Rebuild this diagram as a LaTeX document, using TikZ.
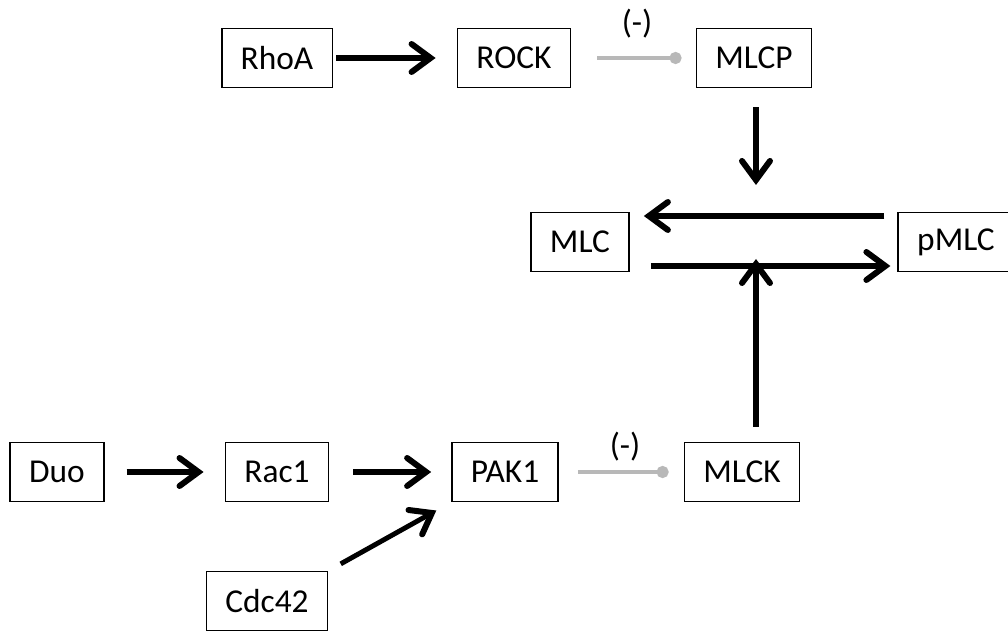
\documentclass[tikz,border=0pt]{standalone}
\usepackage{fontspec}
\setmainfont{Carlito}
\usetikzlibrary{arrows.meta}

\begin{document}
\begin{tikzpicture}[x=0.02cm, y=-0.02cm,
  every node/.style = {shape=rectangle, draw, line width=0.9pt, minimum height=1.18cm,
    inner xsep=0.38cm, font=\fontsize{19}{22}\selectfont},
  act/.style = {line width=3.2pt, -{Straight Barb[length=0.38cm, width=0.56cm, line cap=round, line width=3.4pt]}},
  inh/.style = {line width=2.4pt, draw=black!28, -{Circle[length=0.24cm, width=0.24cm]}},
  lbl/.style = {draw=none, minimum height=0pt, inner sep=0pt}]
  \useasboundingbox (0,0) rectangle (1008,631);
  \node (rhoa) at (277,58) {RhoA};
  \node (rock) at (514,58) {ROCK};
  \node (mlcp) at (754,58) {MLCP};
  \node (mlc) at (580,242) {MLC};
  \node (pmlc) at (956,242) {pMLC};
  \node (duo) at (57,472) {Duo};
  \node (rac) at (277,472) {Rac1};
  \node (pak) at (505,472) {PAK1};
  \node (mlck) at (742,472) {MLCK};
  \node (cdc) at (267,601) {Cdc42};
  \coordinate (up) at (756,185);
  \coordinate (dn) at (756,259);
  \draw[act, shorten <=1.7pt, shorten >=12pt] (rhoa) -- (rock);
  \draw[inh, shorten <=14.7pt, shorten >=8pt] (rock) -- (mlcp);
  \node[lbl] at (637,24) {(-)};
  \draw[act, shorten <=10.8pt] (mlcp.south -| up) -- (up);
  \draw[act, shorten <=7.4pt, shorten >=8pt] (pmlc.west |- 0,216) -- (mlc.east |- 0,216);
  \draw[act, shorten <=12pt, shorten >=4pt] (mlc.east |- 0,266) -- (pmlc.west |- 0,266);
  \draw[act, shorten <=8.5pt] (mlck.north -| dn) -- (dn);
  \draw[act, shorten <=12.5pt, shorten >=12pt] (duo) -- (rac);
  \draw[act, shorten <=13.6pt, shorten >=11.3pt] (rac) -- (pak);
  \draw[inh, shorten <=10.8pt, shorten >=8.5pt] (pak) -- (mlck);
  \node[lbl] at (625,447) {(-)};
  \draw[act, line width=2.8pt, shorten <=8pt, shorten >=9.6pt] (cdc.north east) -- (pak.south west);
\end{tikzpicture}
\end{document}
